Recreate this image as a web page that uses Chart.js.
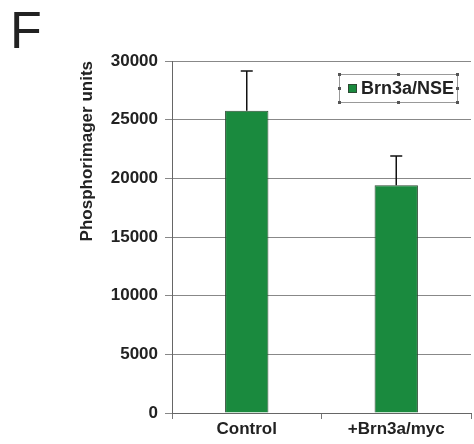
<!DOCTYPE html>
<html>
<head>
<meta charset="utf-8">
<script src="https://cdn.jsdelivr.net/npm/chart.js@4.4.1/dist/chart.umd.min.js"></script>
<style>
    html, body { margin: 0; padding: 0; background: #fff; }
    #wrap { position: relative; width: 474px; height: 444px; }
    #panel { position: absolute; left: 10px; top: 0px; font: 52px "Liberation Sans", Arial, sans-serif; color: #222; }
</style>
</head>
<body>
<div id="wrap">
    <div id="panel">F</div>
    <canvas id="phosChart" width="474" height="444"></canvas>
</div>
<script>
const categories = ["Control", "+Brn3a/myc"];
const seriesLabel = "Brn3a/NSE";
const values = [25750, 19400];
const errors = [3400, 2500];
const yTicks = [0, 5000, 10000, 15000, 20000, 25000, 30000];

const fontFamily = "'Liberation Sans', Arial, sans-serif";

// error bars, only the upper half like in the original
const errorBars = {
    id: "errorBars",
    afterDatasetsDraw(chart) {
        const ctx = chart.ctx;
        const yScale = chart.scales.y;
        const meta = chart.getDatasetMeta(0);
        ctx.save();
        ctx.strokeStyle = "#111";
        ctx.lineWidth = 1.5;
        meta.data.forEach((bar, i) => {
            let top = yScale.getPixelForValue(values[i] + errors[i]);
            ctx.beginPath();
            ctx.moveTo(bar.x, bar.y);
            ctx.lineTo(bar.x, top);
            ctx.moveTo(bar.x - 6, top);
            ctx.lineTo(bar.x + 6, top);
            ctx.stroke();
        });
        ctx.restore();
    }
};

// legend box inside the plot, with the little selection handles
const boxLegend = {
    id: "boxLegend",
    afterDraw(chart) {
        const ctx = chart.ctx;
        const area = chart.chartArea;
        const x0 = area.right - 132, y0 = area.top + 13;
        const w = 118, h = 28;
        ctx.save();
        ctx.strokeStyle = "#999";
        ctx.lineWidth = 1;
        ctx.strokeRect(x0 + 0.5, y0 + 0.5, w, h);
        ctx.fillStyle = "#555";
        [[0, 0], [w / 2, 0], [w, 0], [0, h / 2], [w, h / 2], [0, h], [w / 2, h], [w, h]].forEach(p => {
            ctx.fillRect(x0 + p[0] - 1, y0 + p[1] - 1, 3, 3);
        });
        ctx.fillStyle = "#1a8a3e";
        ctx.strokeStyle = "#2c4a33";
        ctx.fillRect(x0 + 9, y0 + 10, 9, 9);
        ctx.strokeRect(x0 + 9.5, y0 + 10.5, 8, 8);
        ctx.fillStyle = "#222";
        ctx.font = "bold 18px " + fontFamily;
        ctx.textBaseline = "middle";
        ctx.fillText(chart.data.datasets[0].label, x0 + 22, y0 + h / 2 + 1);
        ctx.restore();
    }
};

let chartEl = document.getElementById("phosChart");
let phosChart = new Chart(chartEl, {
    type: "bar",
    data: {
        labels: categories,
        datasets: [{
            label: seriesLabel,
            data: values,
            backgroundColor: "#1a8a3e",
            borderColor: "#2c4a33",
            borderWidth: 1,
            categoryPercentage: 1,
            barPercentage: 0.29
        }]
    },
    options: {
        responsive: false,
        animation: false,
        layout: {
            padding: { left: 73, top: 61, right: 3, bottom: 0 }
        },
        scales: {
            x: {
                grid: {
                    drawOnChartArea: false,
                    color: "#777",
                    tickLength: 6
                },
                border: { color: "#666" },
                ticks: {
                    color: "#222",
                    padding: 0,
                    font: { family: fontFamily, size: 17, weight: "bold" }
                },
                afterFit(scale) { scale.height = 31; }
            },
            y: {
                min: 0,
                max: 30000,
                afterBuildTicks(scale) {
                    scale.ticks = yTicks.map(v => ({ value: v }));
                },
                grid: {
                    color: "#888",
                    tickLength: 7
                },
                border: { color: "#666" },
                ticks: {
                    color: "#222",
                    padding: 7,
                    font: { family: fontFamily, size: 17, weight: "bold" },
                    callback: function (value) {
                        return String(value);
                    }
                },
                title: {
                    display: true,
                    text: "Phosphorimager units",
                    align: "end",
                    color: "#222",
                    font: { family: fontFamily, size: 17, weight: "bold" }
                },
                afterFit(scale) { scale.width = 99; }
            }
        },
        plugins: {
            legend: { display: false },
            tooltip: { enabled: false }
        }
    },
    plugins: [errorBars, boxLegend]
});
</script>
</body>
</html>
